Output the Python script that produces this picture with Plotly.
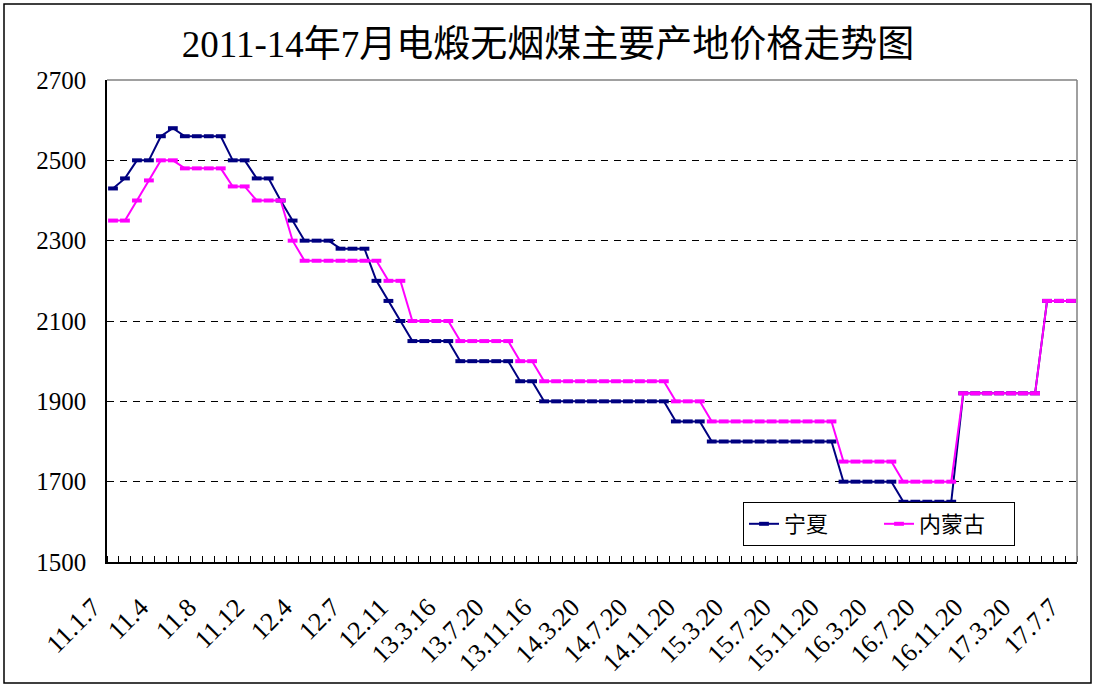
import plotly.graph_objects as go

# ---- data ----
tick_labels = ["11.1.7", "11.4", "11.8", "11.12", "12.4", "12.7", "12.11",
               "13.3.16", "13.7.20", "13.11.16", "14.3.20", "14.7.20", "14.11.20",
               "15.3.20", "15.7.20", "15.11.20", "16.3.20", "16.7.20", "16.11.20",
               "17.3.20", "17.7.7"]

ningxia = [2430, 2455, 2500, 2500, 2560, 2580, 2560, 2560, 2560, 2560,
           2500, 2500, 2455, 2455, 2400, 2350, 2300, 2300, 2300, 2280,
           2280, 2280, 2200, 2150, 2100, 2050, 2050, 2050, 2050,
           2000, 2000, 2000, 2000, 2000,
           1950, 1950,
           1900, 1900, 1900, 1900, 1900, 1900, 1900, 1900, 1900, 1900, 1900,
           1850, 1850, 1850,
           1800, 1800, 1800, 1800, 1800, 1800, 1800, 1800, 1800, 1800, 1800,
           1700, 1700, 1700, 1700, 1700,
           1650, 1650, 1650, 1650, 1650,
           1920, 1920, 1920, 1920, 1920, 1920, 1920,
           2150, 2150, 2150]

neimenggu = [2350, 2350, 2400, 2450, 2500, 2500, 2480, 2480, 2480, 2480,
             2435, 2435, 2400, 2400, 2400, 2300, 2250, 2250, 2250, 2250,
             2250, 2250, 2250, 2200, 2200, 2100, 2100, 2100, 2100,
             2050, 2050, 2050, 2050, 2050,
             2000, 2000,
             1950, 1950, 1950, 1950, 1950, 1950, 1950, 1950, 1950, 1950, 1950,
             1900, 1900, 1900,
             1850, 1850, 1850, 1850, 1850, 1850, 1850, 1850, 1850, 1850, 1850,
             1750, 1750, 1750, 1750, 1750,
             1700, 1700, 1700, 1700, 1700,
             1920, 1920, 1920, 1920, 1920, 1920, 1920,
             2150, 2150, 2150]

series_names = ["宁夏", "内蒙古"]
title_text = "2011-14年7月电煅无烟煤主要产地价格走势图"

n = len(ningxia)
x = list(range(n))
label_every = (n - 1) // (len(tick_labels) - 1)
tickvals = x[::label_every]

W, H = 1096, 686
ML, MR, MT, MB = 107, 19, 80, 124
PW, PH = W - ML - MR, H - MT - MB

serif = "Liberation Serif, Noto Sans CJK SC, serif"

fig = go.Figure()
for name, vals, col in [(series_names[0], ningxia, "#000080"),
                        (series_names[1], neimenggu, "#FF00FF")]:
    fig.add_trace(go.Scatter(
        x=x, y=vals, name=name, mode="lines+markers",
        line=dict(color=col, width=2),
        marker=dict(symbol="line-ew", size=7, color=col,
                    line=dict(color=col, width=4)),
    ))

fig.update_layout(
    width=W, height=H,
    margin=dict(l=ML, r=MR, t=MT, b=MB, autoexpand=False),
    paper_bgcolor="white", plot_bgcolor="white",
    title=dict(text=title_text, x=0.5, xanchor="center", y=1 - 44 / H,
               yanchor="middle", yref="container",
               font=dict(family=serif, size=37, color="black")),
    legend=dict(orientation="h", x=(743 - ML) / PW, y=(H - MB - 502) / PH,
                xanchor="left", yanchor="top",
                bgcolor="white", bordercolor="black", borderwidth=1,
                font=dict(family=serif, size=22, color="black"),
                entrywidth=90, entrywidthmode="pixels"),
    showlegend=True,
)

fig.update_xaxes(
    range=[-0.5, n - 0.5], tickmode="array", tickvals=tickvals, ticktext=tick_labels,
    tickangle=-45, ticks="", showgrid=False, zeroline=False,
    showline=True, linecolor="black", linewidth=1.5,
    tickfont=dict(family=serif, size=26, color="black"),
    ticklabelshift=-20, ticklabelstandoff=18,
    minor=dict(ticks="inside", ticklen=6, tickcolor="black", tickwidth=1,
               tick0=0.5, dtick=1, showgrid=False),
)
fig.update_yaxes(
    range=[1500, 2700], tickmode="linear", tick0=1500, dtick=200,
    ticks="", showgrid=True, gridcolor="black", gridwidth=1, griddash="7px,6px",
    zeroline=False, showline=True, linecolor="black", linewidth=1.5,
    tickfont=dict(family=serif, size=25, color="black"),
    ticklabelstandoff=14,
)

# plot-area border (grey top/right) and outer chart border
fig.add_shape(type="line", xref="paper", yref="paper", x0=0, x1=1, y0=1, y1=1,
              line=dict(color="#808080", width=1.5), layer="above")
fig.add_shape(type="line", xref="paper", yref="paper", x0=1, x1=1, y0=0, y1=1,
              line=dict(color="#808080", width=1.5), layer="above")
fig.add_shape(type="rect", xref="paper", yref="paper",
              x0=(4 - ML) / PW, x1=(1091 - ML) / PW,
              y0=(H - MB - 683) / PH, y1=(H - MB - 4) / PH,
              line=dict(color="black", width=1.5), fillcolor="rgba(0,0,0,0)", layer="above")

fig.write_html("out.html", config={"displayModeBar": False},
               post_script="document.body.style.margin='0px';document.body.style.overflow='hidden';")
